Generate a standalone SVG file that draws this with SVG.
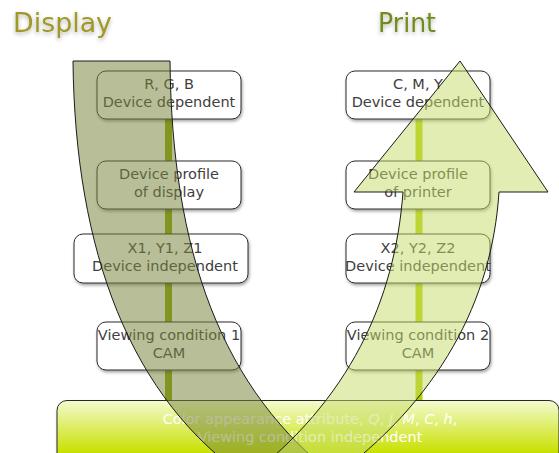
<svg xmlns="http://www.w3.org/2000/svg" width="559" height="453" viewBox="0 0 559 453">
<style>
  .box { fill: #ffffff; stroke: #2b2b2b; stroke-width: 1; filter: url(#sh); }
  .lbl { font-family: "DejaVu Sans", "Liberation Sans", sans-serif; font-size: 14.5px; fill: #404040; text-anchor: middle; }
  .title { font-family: "DejaVu Sans", "Liberation Sans", sans-serif; font-size: 27px; filter: url(#glow); }
  .band-text { font-family: "DejaVu Sans", "Liberation Sans", sans-serif; font-size: 14.5px; fill: #ffffff; text-anchor: middle; }
  .arrow { stroke: #1a1a1a; stroke-width: 1; }
</style>
<defs>
  <linearGradient id="bandGrad" x1="0" y1="0" x2="0" y2="1">
    <stop offset="0" stop-color="#f4fbcf"/>
    <stop offset="0.75" stop-color="#c8e000"/>
    <stop offset="1" stop-color="#bcd800"/>
  </linearGradient>
  <filter id="sh" x="-10%" y="-10%" width="130%" height="140%">
    <feDropShadow dx="1" dy="2" stdDeviation="1.6" flood-color="#000" flood-opacity="0.35"/>
  </filter>
  <filter id="glow" x="-10%" y="-20%" width="120%" height="160%">
    <feDropShadow dx="0" dy="2" stdDeviation="2" flood-color="#000" flood-opacity="0.3"/>
  </filter>
</defs>

<g id="titles">
  <text class="title" x="13" y="32" fill="#a1982a" textLength="99" lengthAdjust="spacingAndGlyphs">Display</text>
  <text class="title" x="378" y="32" fill="#6f8c1c" textLength="58" lengthAdjust="spacingAndGlyphs">Print</text>
</g>

<g id="connectors">
  <line x1="168.5" y1="110" x2="168.5" y2="402" stroke="#8ea300" stroke-width="7"/>
  <line x1="419" y1="110" x2="419" y2="402" stroke="#b6d100" stroke-width="7"/>
</g>

<g id="display-rgb">
  <rect class="box" x="97" y="71" width="144" height="48" rx="9"/>
  <text class="lbl" x="169" y="89">R, G, B</text>
  <text class="lbl" x="169" y="107">Device dependent</text>
</g>
<g id="display-profile">
  <rect class="box" x="97" y="161" width="144" height="48" rx="9"/>
  <text class="lbl" x="169" y="179">Device profile</text>
  <text class="lbl" x="169" y="197">of display</text>
</g>
<g id="display-xyz">
  <rect class="box" x="74" y="234" width="174" height="49" rx="9"/>
  <text class="lbl" x="165" y="253">X1, Y1, Z1</text>
  <text class="lbl" x="165" y="271">Device independent</text>
</g>
<g id="display-cam">
  <rect class="box" x="97" y="322" width="144" height="48" rx="9"/>
  <text class="lbl" x="169" y="340">Viewing condition 1</text>
  <text class="lbl" x="169" y="358">CAM</text>
</g>

<g id="print-cmy">
  <rect class="box" x="346" y="71" width="144" height="48" rx="9"/>
  <text class="lbl" x="418" y="89">C, M, Y</text>
  <text class="lbl" x="418" y="107">Device dependent</text>
</g>
<g id="print-profile">
  <rect class="box" x="346" y="161" width="144" height="48" rx="9"/>
  <text class="lbl" x="418" y="179">Device profile</text>
  <text class="lbl" x="418" y="197">of printer</text>
</g>
<g id="print-xyz">
  <rect class="box" x="346" y="234" width="144" height="49" rx="9"/>
  <text class="lbl" x="418" y="253">X2, Y2, Z2</text>
  <text class="lbl" x="418" y="271">Device independent</text>
</g>
<g id="print-cam">
  <rect class="box" x="346" y="322" width="144" height="48" rx="9"/>
  <text class="lbl" x="418" y="340">Viewing condition 2</text>
  <text class="lbl" x="418" y="358">CAM</text>
</g>

<g id="appearance">
  <rect x="57" y="400.5" width="502" height="70" rx="10" fill="url(#bandGrad)" stroke="#2b2b2b" stroke-width="1" filter="url(#sh)"/>
  <text class="band-text" x="310" y="424">Color appearance attribute, <tspan font-style="italic">Q</tspan>, <tspan font-style="italic">J</tspan>, <tspan font-style="italic">M</tspan>, <tspan font-style="italic">C</tspan>, <tspan font-style="italic">h</tspan>,</text>
  <text class="band-text" x="310" y="442">Viewing condition independent</text>
</g>

<g id="arrows">
  <path class="arrow" fill="#78873c" fill-opacity="0.53" d="M73,61 L170,61 C172,250 220,390 340,480 L250,480 C130,400 75,250 73,61 Z"/>
  <path class="arrow" fill="#c5dc6a" fill-opacity="0.5" d="M403,192 L354,192 L460,61 L548,192 L499,192 C492,300 440,400 330,480 L245,480 C350,400 395,300 403,192 Z"/>
</g>
</svg>
